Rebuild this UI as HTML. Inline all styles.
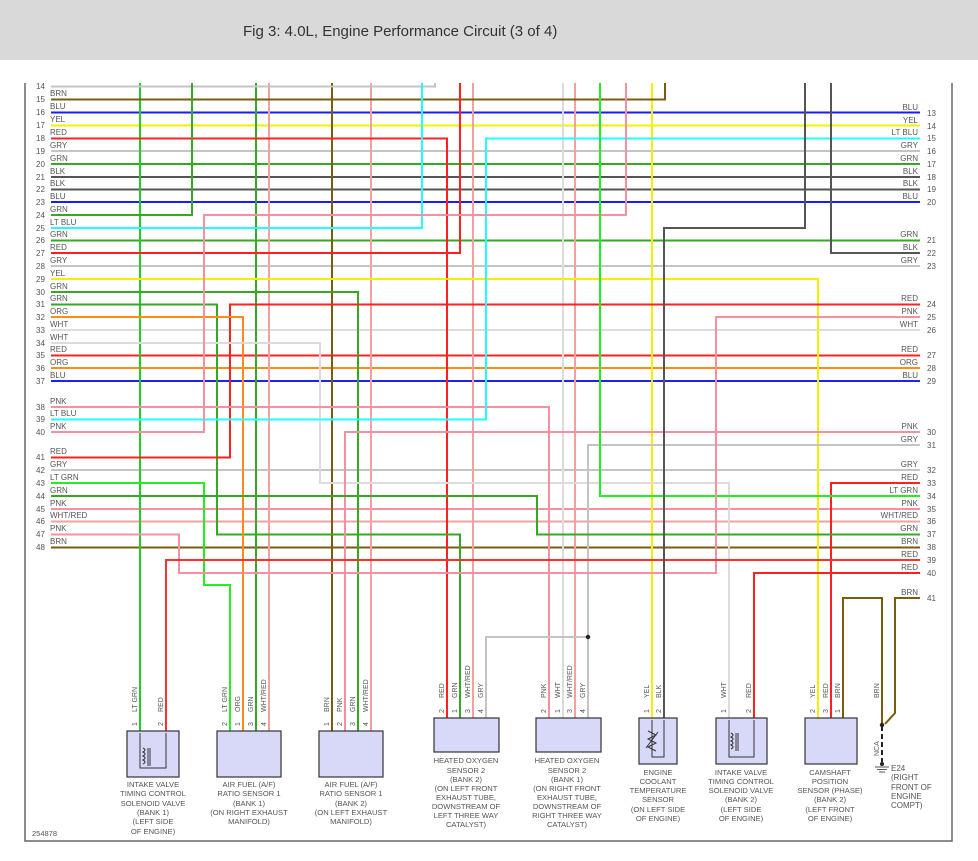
<!DOCTYPE html>
<html><head><meta charset="utf-8"><style>
html,body{margin:0;padding:0;background:#fff;}
svg{display:block;font-family:"Liberation Sans",sans-serif;}
.w{fill:none;stroke-width:2;}
.l{font-size:8px;fill:#555;}
.r{font-size:8px;fill:#555;text-anchor:end;}
.c{font-size:7.6px;fill:#555;text-anchor:middle;}
.p{font-size:7px;fill:#555;}
</style></head><body>
<svg width="978" height="861" viewBox="0 0 978 861">
<rect x="0" y="0" width="978" height="60" fill="#d9d9d9"/>
<text x="243" y="36" font-size="15" fill="#333">Fig 3: 4.0L, Engine Performance Circuit (3 of 4)</text>
<polyline points="25,83 25,841 952,841 952,83" fill="none" stroke="#666" stroke-width="1.5"/>

<!-- straight horizontals -->
<g class="w">
<line x1="51" y1="112.5" x2="920" y2="112.5" stroke="#1a1aff"/>
<line x1="51" y1="125.5" x2="920" y2="125.5" stroke="#f2f200"/>
<line x1="51" y1="151" x2="920" y2="151" stroke="#c4c4c4"/>
<line x1="51" y1="164" x2="920" y2="164" stroke="#33aa22"/>
<line x1="51" y1="177" x2="920" y2="177" stroke="#555"/>
<line x1="51" y1="189.5" x2="920" y2="189.5" stroke="#555"/>
<line x1="51" y1="202" x2="920" y2="202" stroke="#1a1aff"/>
<line x1="51" y1="240.5" x2="920" y2="240.5" stroke="#33aa22"/>
<line x1="51" y1="266" x2="920" y2="266" stroke="#c4c4c4"/>
<line x1="51" y1="330" x2="920" y2="330" stroke="#dcdcdc"/>
<line x1="51" y1="355.5" x2="920" y2="355.5" stroke="#ff2020"/>
<line x1="51" y1="368" x2="920" y2="368" stroke="#ff8c1a"/>
<line x1="51" y1="381" x2="920" y2="381" stroke="#2222ee"/>
<line x1="51" y1="470" x2="920" y2="470" stroke="#c4c4c4"/>
<line x1="51" y1="509" x2="920" y2="509" stroke="#f590a0"/>
<line x1="51" y1="521.5" x2="920" y2="521.5" stroke="#f2a0a0"/>
<line x1="51" y1="547.5" x2="920" y2="547.5" stroke="#7a5c10"/>

<!-- verticals -->
<line x1="140" y1="83" x2="140" y2="731" stroke="#22cc22"/>
<line x1="256" y1="83" x2="256" y2="731" stroke="#33aa22"/>
<line x1="269" y1="83" x2="269" y2="731" stroke="#f2a0a0"/>
<line x1="332" y1="83" x2="332" y2="731" stroke="#7a5c10"/>
<line x1="371" y1="83" x2="371" y2="731" stroke="#f2a0a0"/>
<line x1="473" y1="83" x2="473" y2="718" stroke="#f2a0a0"/>
<line x1="563" y1="83" x2="563" y2="718" stroke="#dcdcdc"/>
<line x1="575" y1="83" x2="575" y2="718" stroke="#f2a0a0"/>
<line x1="652" y1="83" x2="652" y2="718" stroke="#f2f200"/>

<!-- routed -->
<polyline points="51,86.5 435,86.5 435,83" stroke="#c4c4c4"/>
<polyline points="51,99.5 665,99.5 665,83" stroke="#7a5c10"/>
<polyline points="51,138.5 447,138.5 447,718" stroke="#ff2020"/>
<polyline points="51,215 192,215 192,83" stroke="#33aa22"/>
<polyline points="51,228 422,228 422,83" stroke="#22ffff"/>
<polyline points="51,253 460,253 460,83" stroke="#ff2020"/>
<polyline points="51,279 818,279 818,718" stroke="#f2f200"/>
<polyline points="51,292 358,292 358,731" stroke="#33aa22"/>
<polyline points="51,304.5 217,304.5 217,534.5 460,534.5 460,718" stroke="#33aa22"/>
<polyline points="51,457.5 230,457.5 230,304.5 920,304.5" stroke="#ff2020"/>
<polyline points="51,317 243,317 243,731" stroke="#ff8c1a"/>
<polyline points="51,343 320,343 320,483 729,483 729,718" stroke="#dcdcdc"/>
<polyline points="51,407 549,407 549,718" stroke="#f590a0"/>
<polyline points="51,419.5 486,419.5 486,138.5 920,138.5" stroke="#22ffff"/>
<polyline points="51,432 204,432 204,215 626,215 626,83" stroke="#f590a0"/>
<polyline points="920,432 345,432 345,731" stroke="#f590a0"/>
<polyline points="920,445 588,445 588,718" stroke="#c4c4c4"/>
<polyline points="588,637 486,637 486,718" stroke="#c4c4c4"/>
<polyline points="920,483 831,483 831,718" stroke="#ff2020"/>
<polyline points="51,483 204,483 204,585 230,585 230,731" stroke="#22ee22"/>
<polyline points="920,496 600,496 600,83" stroke="#22ee22"/>
<polyline points="51,496 537,496 537,534.5 920,534.5" stroke="#33aa22"/>
<polyline points="51,534.5 179,534.5 179,573 716,573 716,317 920,317" stroke="#f590a0"/>
<polyline points="920,560 166,560 166,731" stroke="#ff3030"/>
<polyline points="920,573 754,573 754,718" stroke="#ff2020"/>
<polyline points="920,598 895,598 895,713 885,724" stroke="#7a5c10"/>
<polyline points="843,718 843,598 882,598 882,724" stroke="#7a5c10"/>
<polyline points="805,83 805,228 664,228 664,718" stroke="#555"/>
<polyline points="831,83 831,253 920,253" stroke="#555"/>
<line x1="882" y1="726" x2="882" y2="762" stroke="#222" stroke-dasharray="5,3"/>
</g>
<circle cx="588" cy="637" r="2.2" fill="#222"/>
<circle cx="882" cy="725" r="2.2" fill="#222"/>
<circle cx="882" cy="764" r="2" fill="#222"/>
<line x1="875" y1="767" x2="889" y2="767" stroke="#555"/>
<line x1="877" y1="769.5" x2="887" y2="769.5" stroke="#555"/>
<line x1="879" y1="772" x2="885" y2="772" stroke="#555"/>

<!-- left labels -->
<g class="l">
<text x="36" y="89">14</text>
<text x="36" y="102">15</text><text x="50" y="96">BRN</text>
<text x="36" y="115">16</text><text x="50" y="109">BLU</text>
<text x="36" y="128">17</text><text x="50" y="122">YEL</text>
<text x="36" y="141">18</text><text x="50" y="135">RED</text>
<text x="36" y="154">19</text><text x="50" y="148">GRY</text>
<text x="36" y="167">20</text><text x="50" y="161">GRN</text>
<text x="36" y="180">21</text><text x="50" y="174">BLK</text>
<text x="36" y="192">22</text><text x="50" y="186">BLK</text>
<text x="36" y="205">23</text><text x="50" y="199">BLU</text>
<text x="36" y="218">24</text><text x="50" y="212">GRN</text>
<text x="36" y="231">25</text><text x="50" y="225">LT BLU</text>
<text x="36" y="243">26</text><text x="50" y="237">GRN</text>
<text x="36" y="256">27</text><text x="50" y="250">RED</text>
<text x="36" y="269">28</text><text x="50" y="263">GRY</text>
<text x="36" y="282">29</text><text x="50" y="276">YEL</text>
<text x="36" y="295">30</text><text x="50" y="289">GRN</text>
<text x="36" y="307">31</text><text x="50" y="301">GRN</text>
<text x="36" y="320">32</text><text x="50" y="314">ORG</text>
<text x="36" y="333">33</text><text x="50" y="327">WHT</text>
<text x="36" y="346">34</text><text x="50" y="340">WHT</text>
<text x="36" y="358">35</text><text x="50" y="352">RED</text>
<text x="36" y="371">36</text><text x="50" y="365">ORG</text>
<text x="36" y="384">37</text><text x="50" y="378">BLU</text>
<text x="36" y="410">38</text><text x="50" y="404">PNK</text>
<text x="36" y="422">39</text><text x="50" y="416">LT BLU</text>
<text x="36" y="435">40</text><text x="50" y="429">PNK</text>
<text x="36" y="460">41</text><text x="50" y="454">RED</text>
<text x="36" y="473">42</text><text x="50" y="467">GRY</text>
<text x="36" y="486">43</text><text x="50" y="480">LT GRN</text>
<text x="36" y="499">44</text><text x="50" y="493">GRN</text>
<text x="36" y="512">45</text><text x="50" y="506">PNK</text>
<text x="36" y="524">46</text><text x="50" y="518">WHT/RED</text>
<text x="36" y="537">47</text><text x="50" y="531">PNK</text>
<text x="36" y="550">48</text><text x="50" y="544">BRN</text>
</g>
<!-- right labels -->
<g class="r">
<text x="918" y="110">BLU</text><text x="918" y="123">YEL</text><text x="918" y="135">LT BLU</text>
<text x="918" y="148">GRY</text><text x="918" y="161">GRN</text><text x="918" y="174">BLK</text>
<text x="918" y="186">BLK</text><text x="918" y="199">BLU</text><text x="918" y="237">GRN</text>
<text x="918" y="250">BLK</text><text x="918" y="263">GRY</text><text x="918" y="301">RED</text>
<text x="918" y="314">PNK</text><text x="918" y="327">WHT</text><text x="918" y="352">RED</text>
<text x="918" y="365">ORG</text><text x="918" y="378">BLU</text><text x="918" y="429">PNK</text>
<text x="918" y="442">GRY</text><text x="918" y="467">GRY</text><text x="918" y="480">RED</text>
<text x="918" y="493">LT GRN</text><text x="918" y="506">PNK</text><text x="918" y="518">WHT/RED</text>
<text x="918" y="531">GRN</text><text x="918" y="544">BRN</text><text x="918" y="557">RED</text>
<text x="918" y="570">RED</text><text x="918" y="595">BRN</text>
</g>
<g class="l">
<text x="927" y="116">13</text><text x="927" y="129">14</text><text x="927" y="141">15</text>
<text x="927" y="154">16</text><text x="927" y="167">17</text><text x="927" y="180">18</text>
<text x="927" y="192">19</text><text x="927" y="205">20</text><text x="927" y="243">21</text>
<text x="927" y="256">22</text><text x="927" y="269">23</text><text x="927" y="307">24</text>
<text x="927" y="320">25</text><text x="927" y="333">26</text><text x="927" y="358">27</text>
<text x="927" y="371">28</text><text x="927" y="384">29</text><text x="927" y="435">30</text>
<text x="927" y="448">31</text><text x="927" y="473">32</text><text x="927" y="486">33</text>
<text x="927" y="499">34</text><text x="927" y="512">35</text><text x="927" y="524">36</text>
<text x="927" y="537">37</text><text x="927" y="550">38</text><text x="927" y="563">39</text>
<text x="927" y="576">40</text><text x="927" y="601">41</text>
</g>

<!-- connector boxes -->
<g fill="#d8d8f8" stroke="#333" stroke-width="1.2">
<rect x="127" y="731" width="52" height="46"/>
<rect x="217" y="731" width="64" height="46"/>
<rect x="319" y="731" width="64" height="46"/>
<rect x="434" y="718" width="65" height="34"/>
<rect x="536" y="718" width="65" height="34"/>
<rect x="639" y="718" width="38" height="46"/>
<rect x="716" y="718" width="51" height="46"/>
<rect x="805" y="718" width="52" height="46"/>
</g>
<g fill="none" stroke="#333" stroke-width="1">
<polyline points="140,733 140,768 166,768 166,733"/>
<path d="M143,748 q4,2 0,4 q4,2 0,4 q4,2 0,4 q4,2 0,4 M148,748 v18 M150,748 v18"/>
<polyline points="652,720 652,757 664,757 664,720"/>
<path d="M648,731 l8,4 -8,4 8,4 -8,4 8,4 M646,748 l12,-16"/>
<polyline points="729,720 729,757 754,757 754,720"/>
<path d="M731,733 q4,2 0,4 q4,2 0,4 q4,2 0,4 q4,2 0,4 M736,733 v18 M738,733 v18"/>
</g>

<!-- wire labels (rotated) -->
<g class="p">
<text transform="translate(137,712) rotate(-90)">LT GRN</text>
<text transform="translate(163,712) rotate(-90)">RED</text>
<text transform="translate(227,712) rotate(-90)">LT GRN</text>
<text transform="translate(240,712) rotate(-90)">ORG</text>
<text transform="translate(253,712) rotate(-90)">GRN</text>
<text transform="translate(266,712) rotate(-90)">WHT/RED</text>
<text transform="translate(329,712) rotate(-90)">BRN</text>
<text transform="translate(342,712) rotate(-90)">PNK</text>
<text transform="translate(355,712) rotate(-90)">GRN</text>
<text transform="translate(368,712) rotate(-90)">WHT/RED</text>
<text transform="translate(444,698) rotate(-90)">RED</text>
<text transform="translate(457,698) rotate(-90)">GRN</text>
<text transform="translate(470,698) rotate(-90)">WHT/RED</text>
<text transform="translate(483,698) rotate(-90)">GRY</text>
<text transform="translate(546,698) rotate(-90)">PNK</text>
<text transform="translate(560,698) rotate(-90)">WHT</text>
<text transform="translate(572,698) rotate(-90)">WHT/RED</text>
<text transform="translate(585,698) rotate(-90)">GRY</text>
<text transform="translate(649,698) rotate(-90)">YEL</text>
<text transform="translate(661,698) rotate(-90)">BLK</text>
<text transform="translate(726,698) rotate(-90)">WHT</text>
<text transform="translate(751,698) rotate(-90)">RED</text>
<text transform="translate(815,698) rotate(-90)">YEL</text>
<text transform="translate(828,698) rotate(-90)">RED</text>
<text transform="translate(840,698) rotate(-90)">BRN</text>
<text transform="translate(879,698) rotate(-90)">BRN</text>
<text transform="translate(879,756) rotate(-90)">NCA</text>
<!-- pin numbers -->
<text transform="translate(137,726) rotate(-90)">1</text>
<text transform="translate(163,726) rotate(-90)">2</text>
<text transform="translate(227,726) rotate(-90)">2</text>
<text transform="translate(240,726) rotate(-90)">1</text>
<text transform="translate(253,726) rotate(-90)">3</text>
<text transform="translate(266,726) rotate(-90)">4</text>
<text transform="translate(329,726) rotate(-90)">1</text>
<text transform="translate(342,726) rotate(-90)">2</text>
<text transform="translate(355,726) rotate(-90)">3</text>
<text transform="translate(368,726) rotate(-90)">4</text>
<text transform="translate(444,713) rotate(-90)">2</text>
<text transform="translate(457,713) rotate(-90)">1</text>
<text transform="translate(470,713) rotate(-90)">3</text>
<text transform="translate(483,713) rotate(-90)">4</text>
<text transform="translate(546,713) rotate(-90)">2</text>
<text transform="translate(560,713) rotate(-90)">1</text>
<text transform="translate(572,713) rotate(-90)">3</text>
<text transform="translate(585,713) rotate(-90)">4</text>
<text transform="translate(649,713) rotate(-90)">1</text>
<text transform="translate(661,713) rotate(-90)">2</text>
<text transform="translate(726,713) rotate(-90)">1</text>
<text transform="translate(751,713) rotate(-90)">2</text>
<text transform="translate(815,713) rotate(-90)">2</text>
<text transform="translate(828,713) rotate(-90)">3</text>
<text transform="translate(840,713) rotate(-90)">1</text>
</g>

<!-- connector captions -->
<g class="c">
<text x="153" y="787">INTAKE VALVE</text><text x="153" y="796">TIMING CONTROL</text><text x="153" y="806">SOLENOID VALVE</text><text x="153" y="815">(BANK 1)</text><text x="153" y="824">(LEFT SIDE</text><text x="153" y="834">OF ENGINE)</text>
<text x="249" y="787">AIR FUEL (A/F)</text><text x="249" y="796">RATIO SENSOR 1</text><text x="249" y="806">(BANK 1)</text><text x="249" y="815">(ON RIGHT EXHAUST</text><text x="249" y="824">MANIFOLD)</text>
<text x="351" y="787">AIR FUEL (A/F)</text><text x="351" y="796">RATIO SENSOR 1</text><text x="351" y="806">(BANK 2)</text><text x="351" y="815">(ON LEFT EXHAUST</text><text x="351" y="824">MANIFOLD)</text>
<text x="466" y="763">HEATED OXYGEN</text><text x="466" y="773">SENSOR 2</text><text x="466" y="782">(BANK 2)</text><text x="466" y="791">(ON LEFT FRONT</text><text x="466" y="800">EXHAUST TUBE,</text><text x="466" y="809">DOWNSTREAM OF</text><text x="466" y="818">LEFT THREE WAY</text><text x="466" y="827">CATALYST)</text>
<text x="567" y="763">HEATED OXYGEN</text><text x="567" y="773">SENSOR 2</text><text x="567" y="782">(BANK 1)</text><text x="567" y="791">(ON RIGHT FRONT</text><text x="567" y="800">EXHAUST TUBE,</text><text x="567" y="809">DOWNSTREAM OF</text><text x="567" y="818">RIGHT THREE WAY</text><text x="567" y="827">CATALYST)</text>
<text x="658" y="775">ENGINE</text><text x="658" y="784">COOLANT</text><text x="658" y="793">TEMPERATURE</text><text x="658" y="802">SENSOR</text><text x="658" y="812">(ON LEFT SIDE</text><text x="658" y="821">OF ENGINE)</text>
<text x="741" y="775">INTAKE VALVE</text><text x="741" y="784">TIMING CONTROL</text><text x="741" y="793">SOLENOID VALVE</text><text x="741" y="802">(BANK 2)</text><text x="741" y="812">(LEFT SIDE</text><text x="741" y="821">OF ENGINE)</text>
<text x="830" y="775">CAMSHAFT</text><text x="830" y="784">POSITION</text><text x="830" y="793">SENSOR (PHASE)</text><text x="830" y="802">(BANK 2)</text><text x="830" y="812">(LEFT FRONT</text><text x="830" y="821">OF ENGINE)</text>
</g>
<g class="l">
<text x="891" y="771">E24</text><text x="891" y="780">(RIGHT</text><text x="891" y="790">FRONT OF</text><text x="891" y="799">ENGINE</text><text x="891" y="808">COMPT)</text>
<text x="32" y="836" font-size="7.5">254878</text>
</g>
</svg>
</body></html>
